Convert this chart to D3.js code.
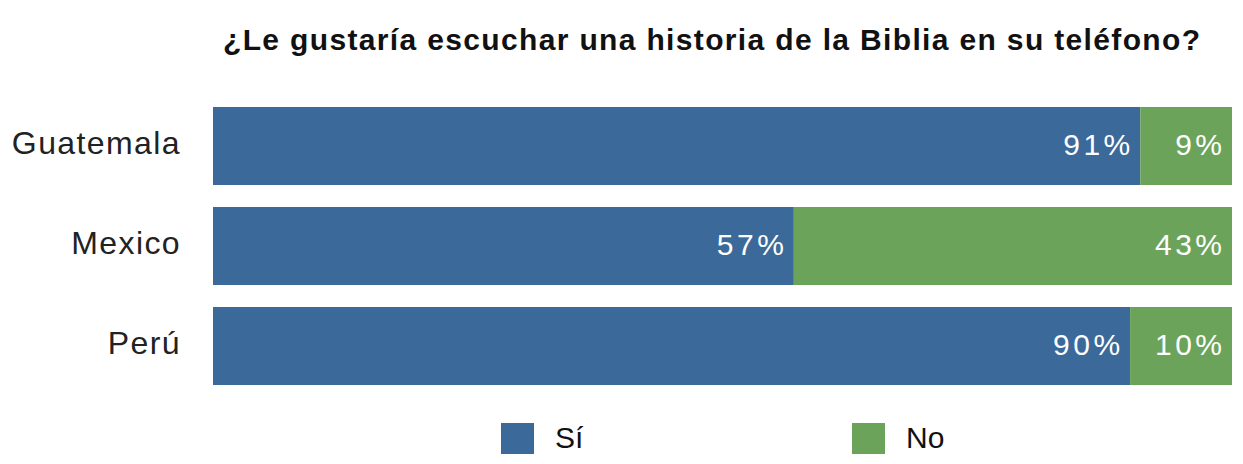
<!DOCTYPE html>
<html>
<head>
<meta charset="utf-8">
<script src="https://cdn.jsdelivr.net/npm/d3@7"></script>
<style>
  html, body { margin: 0; padding: 0; background: #fff; }
  svg { display: block; font-family: "Liberation Sans", Arial, sans-serif; }
</style>
</head>
<body>
<div id="chart"></div>
<script>
// Data
const countries = ['Guatemala', 'Mexico', 'Perú'];
const si = [91, 57, 90];
const no = [9, 43, 10];
const seriesNames = ['Sí', 'No'];
const seriesColors = ['#3b6999', '#6ba35b'];
const title = '¿Le gustaría escuchar una historia de la Biblia en su teléfono?';

const width = 1243;
const height = 464;
const margin = { top: 96, right: 11, bottom: 68, left: 213 };

const svg = d3.select('#chart').append('svg')
  .attr('width', width)
  .attr('height', height);

const x = d3.scaleLinear()
  .domain([0, 100])
  .range([margin.left, width - margin.right]);

const y = d3.scaleBand()
  .domain(countries)
  .range([margin.top, height - margin.bottom])
  .paddingInner(0.22)
  .paddingOuter(0.11);

const rows = countries.map((c, i) => ({ country: c, values: [si[i], no[i]] }));

// Title
svg.append('text')
  .attr('x', 223)
  .attr('y', 50)
  .attr('font-size', '30px')
  .attr('font-weight', 'bold')
  .attr('fill', '#111')
  .attr('textLength', 977)
  .attr('lengthAdjust', 'spacing')
  .text(title);

// Segments
const valSpacing = 3.5;
rows.forEach(row => {
  let start = 0;
  row.values.forEach((v, k) => {
    const x0 = x(start);
    const x1 = x(start + v);
    svg.append('rect')
      .attr('x', x0)
      .attr('y', y(row.country))
      .attr('width', x1 - x0)
      .attr('height', y.bandwidth())
      .attr('fill', seriesColors[k]);

    svg.append('text')
      .attr('x', x1 - 10 + valSpacing)
      .attr('y', y(row.country) + y.bandwidth() / 2)
      .attr('dy', '0.3em')
      .attr('text-anchor', 'end')
      .attr('font-size', '30px')
      .attr('letter-spacing', valSpacing)
      .attr('fill', '#fff')
      .text(`${v}%`);
    start += v;
  });
});

// Category axis
const yAxis = svg.append('g')
  .attr('transform', `translate(${margin.left},0)`)
  .call(d3.axisLeft(y).tickSize(0).tickPadding(32));
yAxis.select('.domain').remove();
yAxis.selectAll('text')
  .attr('dy', '0.25em')
  .attr('font-size', '32px')
  .attr('letter-spacing', 1.4)
  .attr('fill', '#222')
  .attr('font-family', '"Liberation Sans", Arial, sans-serif');

// Legend
const legendX = [501, 852];
const legend = svg.append('g');
seriesNames.forEach((name, k) => {
  legend.append('rect')
    .attr('x', legendX[k])
    .attr('y', 423)
    .attr('width', 33)
    .attr('height', 31)
    .attr('fill', seriesColors[k]);
  legend.append('text')
    .attr('x', legendX[k] + 54)
    .attr('y', 448)
    .attr('font-size', '30px')
    .attr('fill', '#111')
    .text(name);
});
</script>
</body>
</html>
